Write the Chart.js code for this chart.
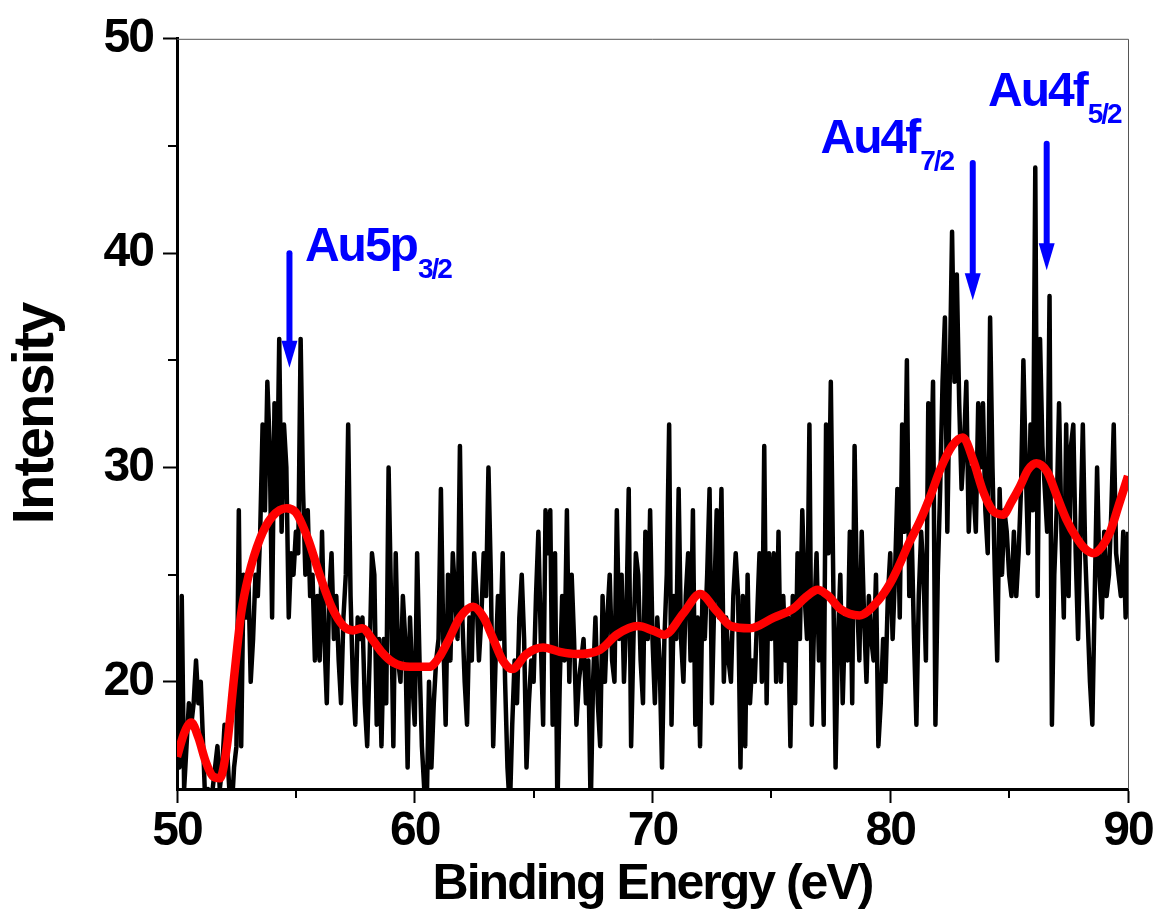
<!DOCTYPE html>
<html>
<head>
<meta charset="utf-8">
<script src="https://cdn.jsdelivr.net/npm/chart.js@4.4.0/dist/chart.umd.min.js"></script>
<style>
html, body { margin: 0; padding: 0; background: #fff; }
#wrap { width: 1157px; height: 918px; }
</style>
</head>
<body>
<div id="wrap"><canvas id="xpsChart" width="1157" height="918"></canvas></div>
<script>
// raw XPS counts, 50.0 -> 90.0 eV in 0.1 eV steps
const energyStart = 50;
const energyStep = 0.1;
const intensity = [
    17,16,24,15,17,19,18,19,21,19,
    20,17,14,15,14,15,16,17,15,16,
    18,17,15,14,16,17,28,17,25,23,
    25,20,22,25,24,27,32,28,34,31,
    23,33,28,36,27,32,30,23,26,25,
    27,26,36,29,25,28,24,25,21,24,
    21,27,22,19,24,26,22,24,21,19,
    23,25,32,24,20,18,23,22,23,19,
    17,21,26,25,18,22,17,22,19,30,
    24,17,26,21,20,24,22,16,23,20,
    18,26,21,17,15,14,20,16,19,21,
    22,29,22,18,25,21,26,24,22,31,
    23,20,18,23,21,26,24,21,23,26,
    24,30,25,17,21,24,22,26,20,16,
    14,18,21,19,23,25,22,16,19,21,
    20,24,27,22,18,28,26,28,18,26,
    14,20,24,21,28,20,25,22,18,20,
    21,22,19,21,14,20,23,19,17,24,
    20,23,25,21,20,28,22,25,20,23,
    29,17,22,26,25,21,19,27,22,28,
    22,19,23,21,16,22,25,32,18,24,
    22,29,22,20,24,26,21,28,18,23,
    17,24,22,25,29,19,24,28,23,29,
    20,23,21,20,24,26,24,16,24,17,
    25,19,21,20,23,26,20,31,19,26,
    22,26,20,27,20,24,21,23,17,24,
    19,26,22,28,24,22,32,18,23,26,
    21,24,18,32,26,34,25,16,22,25,
    19,23,21,27,19,31,24,21,27,23,
    20,24,22,21,25,17,19,22,20,24,
    26,22,25,29,23,32,27,35,24,27,
    22,18,24,27,25,21,33,29,34,18,
    25,29,34,37,27,34,41,34,39,33,
    29,31,34,27,30,29,27,33,30,33,
    28,26,37,30,25,21,29,25,28,27,
    25,24,27,24,26,29,35,30,26,32,
    28,44,24,36,31,29,27,38,18,25,
    28,33,27,23,32,24,31,32,26,22,
    27,32,26,23,20,18,24,30,25,23,
    27,24,25,28,32,26,25,24,27,23,
    27
];

// smoothed curve (red)
const fitEnergy = [
    50.0, 50.3, 50.6, 50.9, 51.2, 51.5, 51.8, 52.1, 52.4, 52.7,
    53.0, 53.5, 54.0, 54.6, 55.0, 55.5, 56.0, 56.5, 57.0, 57.4,
    57.8, 58.2, 58.6, 59.1, 59.8, 60.6, 61.0, 61.4, 61.9, 62.45,
    62.9, 63.3, 63.7, 64.1, 64.7, 65.4, 66.1, 66.8, 67.8, 68.5,
    69.4, 70.0, 70.5, 71.3, 72.0, 72.7, 73.3, 74.1, 75.1, 75.9,
    76.5, 76.95, 77.4, 77.9, 78.7, 79.5, 80.0, 80.4, 80.8, 81.25,
    81.7, 82.1, 82.6, 83.05, 83.5, 83.9, 84.3, 84.75, 85.1, 85.45,
    85.8, 86.15, 86.6, 87.0, 87.4, 87.85, 88.2, 88.55, 88.9, 89.25,
    89.6, 90.0
];
const fitIntensity = [
    16.5, 17.6, 18.1, 17.4, 16.3, 15.6, 15.5, 17.0, 20.2, 23.2,
    24.9, 26.7, 27.7, 28.1, 27.9, 26.7, 25.0, 23.5, 22.6, 22.4,
    22.5, 22.0, 21.4, 20.9, 20.7, 20.7, 21.1, 21.9, 23.0, 23.5,
    23.0, 22.0, 21.0, 20.6, 21.3, 21.6, 21.4, 21.3, 21.5, 22.2,
    22.6, 22.4, 22.2, 23.2, 24.1, 23.3, 22.6, 22.5, 23.0, 23.4,
    24.0, 24.3, 24.0, 23.4, 23.1, 23.8, 24.6, 25.5, 26.5, 27.5,
    28.7, 29.9, 31.0, 31.4, 30.3, 28.9, 28.0, 27.8, 28.4, 29.1,
    29.9, 30.2, 29.8, 28.7, 27.6, 26.7, 26.2, 26.0, 26.3, 27.0,
    28.2, 29.6
];

const xMajorTicks = [50, 60, 70, 80, 90];
const xMinorTicks = [55, 65, 75, 85];
const yMajorTicks = [20, 30, 40, 50];
const yMinorTicks = [25, 35, 45];

// peak markers, in data units
const peakNotes = [
    { name: 'Au5p', sub: '3/2', arrowAt: 54.73, arrowFrom: 40.0, arrowTo: 34.65, textAt: 55.38, textBase: 39.64 },
    { name: 'Au4f', sub: '7/2', arrowAt: 83.47, arrowFrom: 44.2, arrowTo: 37.8, textAt: 77.07, textBase: 44.67 },
    { name: 'Au4f', sub: '5/2', arrowAt: 86.58, arrowFrom: 45.1, arrowTo: 39.2, textAt: 84.11, textBase: 46.86 },
];

const fontFamily = '"Liberation Sans", Arial, Helvetica, sans-serif';
const noteBlue = '#0000ff';

Chart.defaults.font.family = fontFamily;
Chart.defaults.color = '#000';

const framePlugin = {
    id: 'framePlugin',
    beforeDraw(chart) {
        chart.ctx.letterSpacing = '-2px';
    },
    beforeDatasetsDraw(chart) {
        const { ctx, chartArea } = chart;
        ctx.save();
        ctx.strokeStyle = '#555';
        ctx.lineWidth = 1;
        ctx.beginPath();
        ctx.moveTo(chartArea.left, chartArea.top + 0.5);
        ctx.lineTo(chartArea.right + 0.5, chartArea.top + 0.5);
        ctx.lineTo(chartArea.right + 0.5, chartArea.bottom);
        ctx.stroke();
        ctx.restore();
    },
    afterDraw(chart) {
        const { ctx, chartArea, scales } = chart;
        ctx.save();
        // minor ticks
        ctx.strokeStyle = '#000';
        ctx.lineWidth = 2;
        ctx.beginPath();
        xMinorTicks.forEach(v => {
            const px = Math.round(scales.x.getPixelForValue(v));
            ctx.moveTo(px, chartArea.bottom);
            ctx.lineTo(px, chartArea.bottom + 9);
        });
        yMinorTicks.forEach(v => {
            const py = Math.round(scales.y.getPixelForValue(v));
            ctx.moveTo(chartArea.left, py);
            ctx.lineTo(chartArea.left - 9, py);
        });
        ctx.stroke();

        // peak arrows and labels
        peakNotes.forEach(n => {
            const ax = scales.x.getPixelForValue(n.arrowAt);
            const ay0 = scales.y.getPixelForValue(n.arrowFrom);
            const ay1 = scales.y.getPixelForValue(n.arrowTo);
            const head = 27;
            ctx.strokeStyle = noteBlue;
            ctx.fillStyle = noteBlue;
            ctx.lineWidth = 6;
            ctx.lineCap = 'round';
            ctx.beginPath();
            ctx.moveTo(ax, ay0);
            ctx.lineTo(ax, ay1 - head + 2);
            ctx.stroke();
            ctx.beginPath();
            ctx.moveTo(ax - 8, ay1 - head);
            ctx.lineTo(ax + 8, ay1 - head);
            ctx.lineTo(ax, ay1);
            ctx.closePath();
            ctx.fill();

            const tx = scales.x.getPixelForValue(n.textAt);
            const ty = scales.y.getPixelForValue(n.textBase);
            ctx.textAlign = 'left';
            ctx.textBaseline = 'alphabetic';
            ctx.font = 'bold 48px ' + fontFamily;
            ctx.fillText(n.name, tx, ty);
            const w = ctx.measureText(n.name).width;
            ctx.font = 'bold 28px ' + fontFamily;
            ctx.fillText(n.sub, tx + w + 1, ty + 17);
        });
        ctx.restore();
        ctx.letterSpacing = '0px';
    }
};

const ctx = document.getElementById('xpsChart').getContext('2d');
new Chart(ctx, {
    type: 'line',
    data: {
        datasets: [{
            label: 'Smoothed',
            data: fitEnergy.map((e, i) => ({ x: e, y: fitIntensity[i] })),
            borderColor: '#ff0000',
            borderWidth: 8.5,
            pointRadius: 0,
            cubicInterpolationMode: 'monotone',
            order: 0,
        }, {
            label: 'Raw',
            data: intensity.map((v, i) => ({ x: energyStart + i * energyStep, y: v })),
            borderColor: '#000000',
            borderWidth: 4.5,
            borderJoinStyle: 'round',
            pointRadius: 0,
            tension: 0,
            order: 1,
        }]
    },
    options: {
        responsive: false,
        animation: false,
        events: [],
        layout: { padding: { top: 37, right: 29, left: 0, bottom: 0 } },
        scales: {
            x: {
                type: 'linear',
                min: 50,
                max: 90,
                afterFit: (scale) => { scale.height = 129; },
                afterBuildTicks: (scale) => { scale.ticks = xMajorTicks.map(v => ({ value: v })); },
                grid: { drawOnChartArea: false, drawTicks: true, tickLength: 14, tickWidth: 2, tickColor: '#000' },
                border: { color: '#000', width: 3 },
                ticks: {
                    color: '#000',
                    font: { size: 48, weight: 'bold' },
                    padding: 0,
                    maxRotation: 0,
                    autoSkip: false,
                },
                title: {
                    display: true,
                    text: 'Binding Energy (eV)',
                    color: '#000',
                    font: { size: 50, weight: 'bold', lineHeight: 1 },
                    padding: { top: 0, bottom: 8 },
                }
            },
            y: {
                min: 15,
                max: 50,
                afterFit: (scale) => { scale.width = 177; },
                afterBuildTicks: (scale) => { scale.ticks = yMajorTicks.map(v => ({ value: v })); },
                grid: { drawOnChartArea: false, drawTicks: true, tickLength: 14, tickWidth: 2, tickColor: '#000' },
                border: { color: '#000', width: 3 },
                ticks: {
                    color: '#000',
                    font: { size: 48, weight: 'bold' },
                    padding: 10,
                },
                title: {
                    display: true,
                    text: 'Intensity',
                    color: '#000',
                    font: { size: 58, weight: 'bold', lineHeight: 1 },
                    padding: { top: 8, bottom: 0 },
                }
            }
        },
        plugins: {
            legend: { display: false },
            tooltip: { enabled: false },
        }
    },
    plugins: [framePlugin]
});
</script>
</body>
</html>
